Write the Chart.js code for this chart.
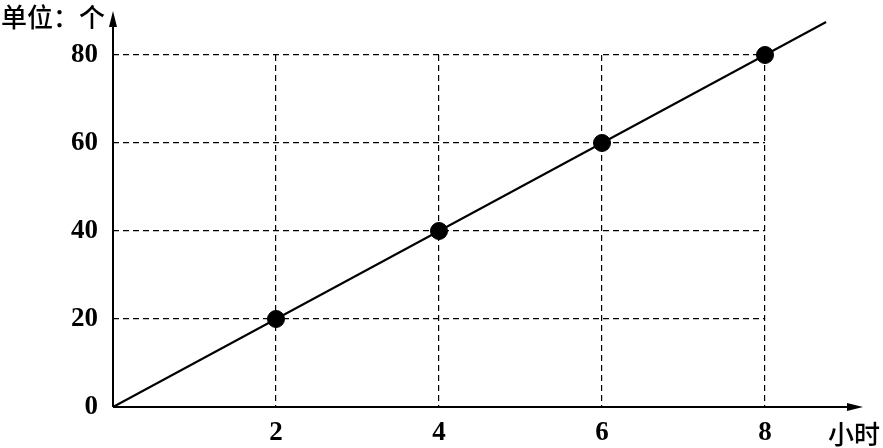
<!DOCTYPE html>
<html>
<head>
<meta charset="utf-8">
<script src="https://cdn.jsdelivr.net/npm/chart.js"></script>
<style>
  html, body { margin: 0; padding: 0; background: #fff; }
  #wrap { width: 883px; height: 448px; }
</style>
</head>
<body>
<div id="wrap"><canvas id="my-chart"></canvas></div>
<script>
// values
const hours = [2, 4, 6, 8];
const counts = [20, 40, 60, 80];
// the straight line runs from the origin past the last point
const lineHours = [0, 8.75];
const lineCounts = [0, 87.5];
const xTicks = [2, 4, 6, 8];
const yTicks = [0, 20, 40, 60, 80];
const yUnit = '单位：个';
const xUnit = '小时';

const numFont = { family: '"Liberation Serif", "DejaVu Serif", serif', size: 27, weight: 'bold' };

// axes with arrow heads plus the unit captions
const arrowAxes = {
  id: 'arrowAxes',
  afterDraw(chart) {
    const ctx = chart.ctx;
    const x0 = chart.scales.x.getPixelForValue(0);
    const y0 = chart.scales.y.getPixelForValue(0);
    ctx.save();
    ctx.strokeStyle = '#000';
    ctx.fillStyle = '#000';
    ctx.lineWidth = 2;
    ctx.beginPath();
    ctx.moveTo(x0, y0);
    ctx.lineTo(x0, 22);
    ctx.moveTo(x0, y0);
    ctx.lineTo(852, y0);
    ctx.stroke();
    // arrow heads
    ctx.beginPath();
    ctx.moveTo(x0, 11);
    ctx.lineTo(x0 - 4, 27);
    ctx.lineTo(x0 + 4, 27);
    ctx.closePath();
    ctx.fill();
    ctx.beginPath();
    ctx.moveTo(863, y0);
    ctx.lineTo(847, y0 - 4);
    ctx.lineTo(847, y0 + 4);
    ctx.closePath();
    ctx.fill();

    ctx.font = '500 26px "Noto Sans CJK SC", sans-serif';
    ctx.textAlign = 'left';
    ctx.textBaseline = 'middle';
    ctx.fillText(yUnit, 1, 17);
    ctx.fillText(xUnit, 828, 434);
    ctx.restore();
  }
};

const ctx = document.getElementById('my-chart').getContext('2d');
const myChart = new Chart(ctx, {
  type: 'scatter',
  data: {
    datasets: [{
      type: 'line',
      data: lineHours.map((h, i) => ({ x: h, y: lineCounts[i] })),
      borderColor: '#000',
      borderWidth: 2,
      pointRadius: 0,
      clip: false,
      order: 2
    }, {
      data: hours.map((h, i) => ({ x: h, y: counts[i] })),
      backgroundColor: '#000',
      borderColor: '#000',
      pointRadius: 8.5,
      pointHoverRadius: 8.5,
      clip: false,
      order: 1
    }]
  },
  options: {
    responsive: true,
    maintainAspectRatio: false,
    animation: false,
    events: [],
    layout: { padding: { top: 55, right: 118, left: 0, bottom: 0 } },
    plugins: { legend: { display: false }, tooltip: { enabled: false } },
    scales: {
      x: {
        type: 'linear',
        min: 0,
        max: 8,
        afterBuildTicks: (s) => { s.ticks = xTicks.map(v => ({ value: v })); },
        afterFit: (s) => { s.height = 41; },
        border: { display: false, dash: [6, 4] },
        grid: {
          color: (c) => c.tick && c.tick.value === 0 ? 'rgba(0,0,0,0)' : '#000',
          lineWidth: 1.2,
          drawTicks: false
        },
        ticks: { color: '#000', font: numFont, padding: 10 }
      },
      y: {
        min: 0,
        max: 80,
        afterBuildTicks: (s) => { s.ticks = yTicks.map(v => ({ value: v })); },
        afterFit: (s) => { s.width = 113; },
        border: { display: false, dash: [6, 4] },
        grid: {
          color: (c) => c.tick && c.tick.value === 0 ? 'rgba(0,0,0,0)' : '#000',
          lineWidth: 1.2,
          drawTicks: false
        },
        ticks: { color: '#000', font: numFont, padding: 15 }
      }
    }
  },
  plugins: [arrowAxes]
});
</script>
</body>
</html>
